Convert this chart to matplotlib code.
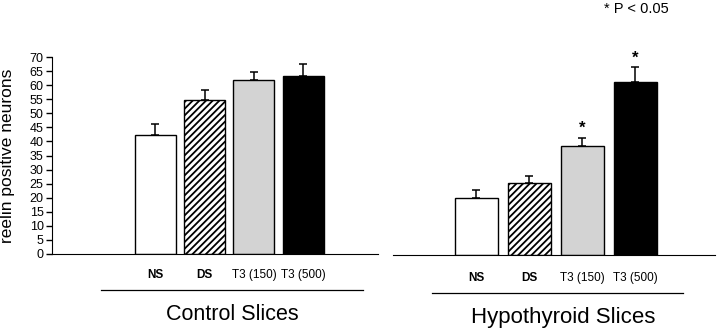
import matplotlib
matplotlib.use("Agg")
import matplotlib.pyplot as plt
from matplotlib.lines import Line2D

plt.rcParams['font.family'] = ['Liberation Sans', 'DejaVu Sans']
plt.rcParams['hatch.linewidth'] = 1.3

# values
groups = ["NS", "DS", "T3 (150)", "T3 (500)"]
control_means = [42.2, 54.7, 61.7, 63.2]
control_err = [3.9, 3.5, 3.0, 4.4]
hypo_means = [20.3, 25.5, 38.8, 61.5]
hypo_err = [2.7, 2.6, 2.8, 5.3]
hypo_sig = [False, False, True, True]

fills = ["white", "white", "#d3d3d3", "black"]
hatches = [None, "/////", None, None]
bold_labels = ["NS", "DS"]

W, H = 720, 328
fig = plt.figure(figsize=(W / 100, H / 100), dpi=100)


def px_axes(x0, x1, y_top, y_bot):
    return fig.add_axes([x0 / W, 1 - y_bot / H, (x1 - x0) / W, (y_bot - y_top) / H])


def draw_bars(ax, means, errs, width):
    x = range(len(groups))
    bars = ax.bar(x, means, width=width, color=fills, edgecolor="black", linewidth=1.0, zorder=2)
    for b, h in zip(bars, hatches):
        if h:
            b.set_hatch(h)
    ax.errorbar(x, means, yerr=[[0] * len(errs), errs], fmt="none", ecolor="black",
                elinewidth=1.1, capsize=3, capthick=1.1, zorder=1)
    ax.set_ylim(0, 70)
    ax.set_xticks(list(x))
    ax.set_xticklabels(groups, fontsize=8.5)
    for lab in ax.get_xticklabels():
        if lab.get_text() in bold_labels:
            lab.set_fontweight("bold")
    ax.tick_params(axis="x", length=0)
    ax.spines["top"].set_visible(False)
    ax.spines["right"].set_visible(False)


# control panel
ax1 = px_axes(52, 378, 57, 254)
draw_bars(ax1, control_means, control_err, 0.83)
ax1.set_xlim(-2.10, 4.52)
ax1.set_yticks(range(0, 71, 5))
ax1.tick_params(axis="y", labelsize=9, length=4, width=1, direction="out", pad=2)
ax1.tick_params(axis="x", pad=11)
ax1.set_ylabel("reelin positive neurons", fontsize=12.5)
ax1.yaxis.set_label_coords(-0.112, 0.5)

# hypothyroid panel
ax2 = px_axes(393, 715, 58, 255)
draw_bars(ax2, hypo_means, hypo_err, 0.82)
ax2.set_xlim(-1.57, 4.50)
ax2.spines["left"].set_visible(False)
ax2.set_yticks([])
ax2.tick_params(axis="x", pad=12)
for i, sig in enumerate(hypo_sig):
    if sig:
        ax2.text(i, hypo_means[i] + hypo_err[i] + 0.6, "*", ha="center", va="bottom",
                 fontsize=12, fontweight="bold")

# group underlines and titles
fig.add_artist(Line2D([101 / W, 363 / W], [1 - 290 / H] * 2, color="black", lw=0.9))
fig.add_artist(Line2D([432 / W, 683 / W], [1 - 293 / H] * 2, color="black", lw=0.9))
fig.text(232 / W, 1 - 315 / H, "Control Slices", ha="center", va="center", fontsize=15.5)
fig.text(563 / W, 1 - 317 / H, "Hypothyroid Slices", ha="center", va="center", fontsize=16)
fig.text(636 / W, 1 - 9 / H, "* P < 0.05", ha="center", va="center", fontsize=10.5)

fig.savefig("out.png", dpi=100)
